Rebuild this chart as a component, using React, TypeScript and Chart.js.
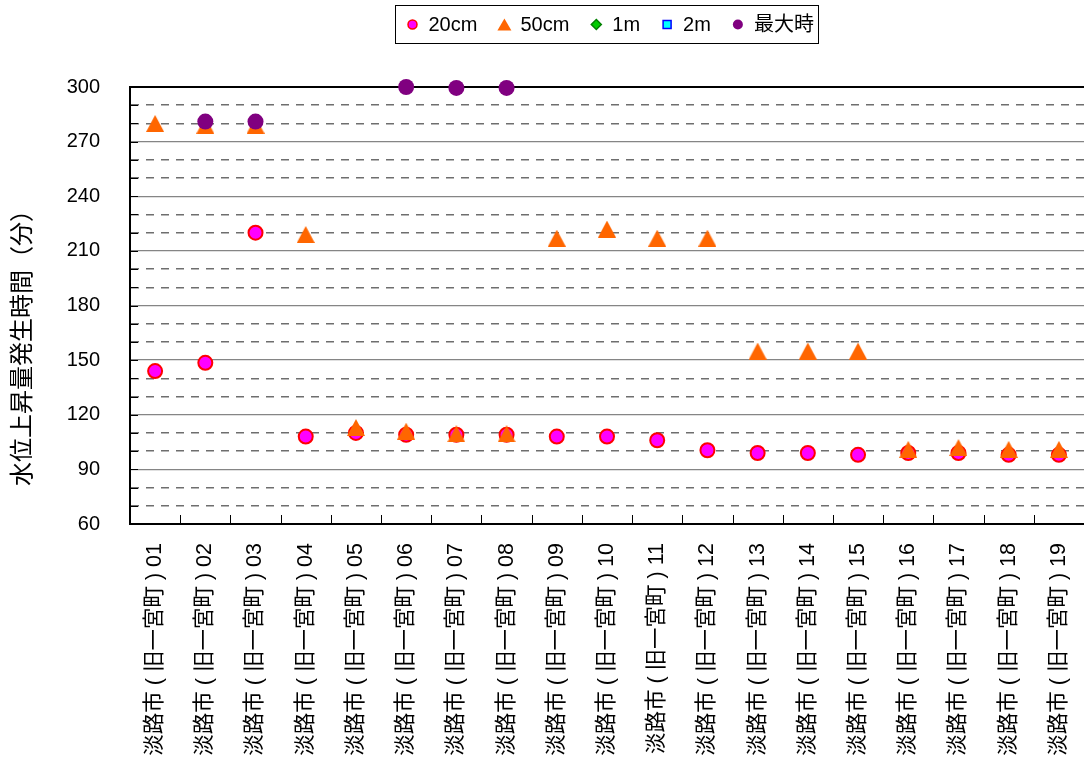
import React, { useEffect, useRef } from 'react';
import { Chart, registerables } from 'chart.js';

Chart.register(...registerables);

// Observation points (tick labels on the category axis)
const pointCodes = ['01', '02', '03', '04', '05', '06', '07', '08', '09', '10', '11', '12', '13', '14', '15', '16', '17', '18', '19'];
const categories = pointCodes.map((c) => `淡路市 ( 旧一宮町 ) ${c}`);

// Minutes until each water-level rise is reached
const rise20cm = [144, 148.5, 220, 108, 110, 109, 109, 109, 108, 108, 106, 100.5, 99, 99, 98, 99, 99, 98, 98];
const rise50cm = [280, 279, 279, 219, 113, 111, 109.5, 109.5, 217, 222, 217, 217, 155, 155, 155, 101, 102, 101, 101];
const rise1m: (number | null)[] = [];
const rise2m: (number | null)[] = [];
const peakTime = [null, 281, 281, null, null, 300, 299.5, 299.5, null, null, null, null, null, null, null, null, null, null, null];

const yMin = 60;
const yMax = 300;
const yStep = 10;
const yLabelStep = 30;

const FONT = '"Liberation Sans", "Noto Sans CJK JP", Arial, sans-serif';

const PINK = '#FF00FF';
const RED = '#FF0000';
const ORANGE = '#FF6600';
const PURPLE = '#800080';
const GREEN = '#00CC00';
const DKGREEN = '#008000';
const CYAN = '#00FFFF';
const BLUE = '#0000FF';

function triangleMarker(w: number, h: number, color: string) {
  const c = document.createElement('canvas');
  c.width = w;
  c.height = h;
  const g = c.getContext('2d')!;
  g.fillStyle = color;
  g.beginPath();
  g.moveTo(w / 2, 0);
  g.lineTo(w, h);
  g.lineTo(0, h);
  g.closePath();
  g.fill();
  return c;
}

// Inward tick marks on both axes
const innerTicks = {
  id: 'innerTicks',
  beforeDatasetsDraw(chart: any) {
    const { ctx, chartArea: a, scales } = chart;
    const x = scales.x;
    const y = scales.y;
    ctx.save();
    ctx.strokeStyle = '#000';
    ctx.lineWidth = 1;
    ctx.beginPath();
    for (let v = yMin; v <= yMax; v += yStep) {
      const py = Math.round(y.getPixelForValue(v)) + 0.5;
      ctx.moveTo(a.left, py);
      ctx.lineTo(a.left + 8, py);
    }
    const n = chart.data.labels.length;
    for (let i = 1; i < n; i++) {
      const px = Math.round((x.getPixelForValue(i - 1) + x.getPixelForValue(i)) / 2) + 0.5;
      ctx.moveTo(px, a.bottom);
      ctx.lineTo(px, a.bottom - 9);
    }
    ctx.stroke();
    ctx.restore();
  },
};

// Vertical axis title
const yTitle = {
  id: 'yTitle',
  afterDraw(chart: any) {
    const { ctx } = chart;
    ctx.save();
    ctx.translate(23, 342);
    ctx.rotate(-Math.PI / 2);
    ctx.font = `24px ${FONT}`;
    ctx.fillStyle = '#000';
    ctx.textAlign = 'center';
    ctx.textBaseline = 'middle';
    ctx.fillText('水位上昇量発生時間（分）', 0, 0);
    ctx.restore();
  },
};

function drawLegendMarker(ctx: CanvasRenderingContext2D, kind: string, cx: number, cy: number) {
  ctx.save();
  ctx.beginPath();
  if (kind === 'circle') {
    ctx.arc(cx, cy, 4.5, 0, Math.PI * 2);
    ctx.fillStyle = PINK;
    ctx.fill();
    ctx.lineWidth = 1.5;
    ctx.strokeStyle = RED;
    ctx.stroke();
  } else if (kind === 'triangle') {
    ctx.moveTo(cx, cy - 6);
    ctx.lineTo(cx + 7, cy + 6);
    ctx.lineTo(cx - 7, cy + 6);
    ctx.closePath();
    ctx.fillStyle = ORANGE;
    ctx.fill();
  } else if (kind === 'diamond') {
    ctx.moveTo(cx, cy - 5);
    ctx.lineTo(cx + 5, cy);
    ctx.lineTo(cx, cy + 5);
    ctx.lineTo(cx - 5, cy);
    ctx.closePath();
    ctx.fillStyle = GREEN;
    ctx.fill();
    ctx.lineWidth = 1.5;
    ctx.strokeStyle = DKGREEN;
    ctx.stroke();
  } else if (kind === 'square') {
    ctx.rect(cx - 4, cy - 4, 8, 8);
    ctx.fillStyle = CYAN;
    ctx.fill();
    ctx.lineWidth = 1.5;
    ctx.strokeStyle = BLUE;
    ctx.stroke();
  } else {
    ctx.arc(cx, cy, 5, 0, Math.PI * 2);
    ctx.fillStyle = PURPLE;
    ctx.fill();
  }
  ctx.restore();
}

const legendKinds = ['circle', 'triangle', 'diamond', 'square', 'dot'];

// Boxed legend centred over the plot area
const boxLegend = {
  id: 'boxLegend',
  afterDraw(chart: any) {
    const { ctx, chartArea: a } = chart;
    const names: string[] = chart.data.datasets.map((d: any) => d.label);
    ctx.save();
    ctx.font = `20px ${FONT}`;
    const widths = names.map((t) => ctx.measureText(t).width);
    const padL = 17;
    const padR = 5;
    const textGap = 16;
    const itemGap = 27;
    let total = padL + padR;
    widths.forEach((w, i) => {
      total += textGap + w + (i < widths.length - 1 ? itemGap : 0);
    });
    const cxBox = (a.left + a.right) / 2;
    const left = Math.round(cxBox - total / 2) + 0.5;
    const top = 5.5;
    const h = 38;
    ctx.strokeStyle = '#000';
    ctx.lineWidth = 1;
    ctx.strokeRect(left, top, Math.round(total), h);
    const cy = top + h / 2;
    let cx = left + padL;
    ctx.fillStyle = '#000';
    ctx.textBaseline = 'middle';
    ctx.textAlign = 'left';
    names.forEach((t, i) => {
      drawLegendMarker(ctx, legendKinds[i], cx, cy);
      ctx.fillStyle = '#000';
      ctx.fillText(t, cx + textGap, cy + 1);
      cx += textGap + widths[i] + itemGap;
    });
    ctx.restore();
  },
};

const isMajor = (c: any) => !!c.tick && c.tick.value % yLabelStep === 0;

export default function App() {
  const canvasRef = useRef<HTMLCanvasElement | null>(null);

  useEffect(() => {
    const canvas = canvasRef.current;
    if (!canvas) return;
    const tri = triangleMarker(18, 17, ORANGE);

    const chart = new Chart(canvas, {
      type: 'line',
      data: {
        labels: categories,
        datasets: [
          {
            label: '20cm',
            data: rise20cm,
            showLine: false,
            pointStyle: 'circle',
            pointRadius: 7,
            pointBorderWidth: 2,
            pointBackgroundColor: PINK,
            pointBorderColor: RED,
            backgroundColor: PINK,
            borderColor: RED,
            order: 5,
          },
          {
            label: '50cm',
            data: rise50cm,
            showLine: false,
            pointStyle: tri as any,
            pointRadius: 9,
            backgroundColor: ORANGE,
            borderColor: ORANGE,
            order: 4,
          },
          {
            label: '1m',
            data: rise1m,
            showLine: false,
            pointStyle: 'rectRot',
            pointRadius: 7,
            pointBorderWidth: 2,
            backgroundColor: GREEN,
            borderColor: DKGREEN,
            order: 3,
          },
          {
            label: '2m',
            data: rise2m,
            showLine: false,
            pointStyle: 'rect',
            pointRadius: 7,
            pointBorderWidth: 2,
            backgroundColor: CYAN,
            borderColor: BLUE,
            order: 2,
          },
          {
            label: '最大時',
            data: peakTime,
            showLine: false,
            pointStyle: 'circle',
            pointRadius: 8,
            pointBorderWidth: 0,
            pointBackgroundColor: PURPLE,
            backgroundColor: PURPLE,
            borderColor: PURPLE,
            order: 1,
          },
        ],
      },
      options: {
        responsive: false,
        animation: false,
        clip: false as any,
        layout: { autoPadding: false, padding: { top: 87, left: 0, right: 0, bottom: 0 } },
        plugins: {
          legend: { display: false },
          tooltip: { enabled: false },
          title: { display: false },
        },
        scales: {
          x: {
            offset: true,
            grid: { display: false, drawTicks: false },
            border: { display: true, color: '#000', width: 2 },
            ticks: {
              autoSkip: false,
              maxRotation: 90,
              minRotation: 90,
              padding: 19,
              color: '#000',
              font: { family: FONT, size: 21.5 },
            },
            afterFit(s: any) {
              s.height = 241;
              s.paddingLeft = 0;
              s.paddingRight = 0;
            },
          },
          y: {
            min: yMin,
            max: yMax,
            grid: {
              drawTicks: false,
              lineWidth: (c: any) => {
                const v = c.tick ? c.tick.value : 0;
                if (v === yMax || v === yMin) return 2;
                return isMajor(c) ? 1.3 : 1.5;
              },
              color: (c: any) => {
                const v = c.tick ? c.tick.value : 0;
                if (v === yMax || v === yMin) return '#000';
                return isMajor(c) ? '#858585' : '#6e6e6e';
              },
            },
            border: {
              display: true,
              color: '#000',
              width: 2,
              dash: (c: any) => (c.tick && !isMajor(c) ? [8, 7] : []),
            },
            ticks: {
              stepSize: yStep,
              autoSkip: false,
              padding: 30,
              color: '#000',
              font: { family: FONT, size: 20 },
              callback: (v: any) => (Number(v) % yLabelStep === 0 ? String(v) : ''),
            },
            afterFit(s: any) {
              s.width = 130;
              s.paddingTop = 0;
              s.paddingBottom = 0;
            },
          },
        },
      },
      plugins: [innerTicks, yTitle, boxLegend],
    });

    return () => {
      chart.destroy();
    };
  }, []);

  return (
    <div style={{ position: 'fixed', left: 0, top: 0, width: 1084, height: 765, background: '#fff' }}>
      <canvas ref={canvasRef} width={1084} height={765} style={{ display: 'block' }} />
    </div>
  );
}
